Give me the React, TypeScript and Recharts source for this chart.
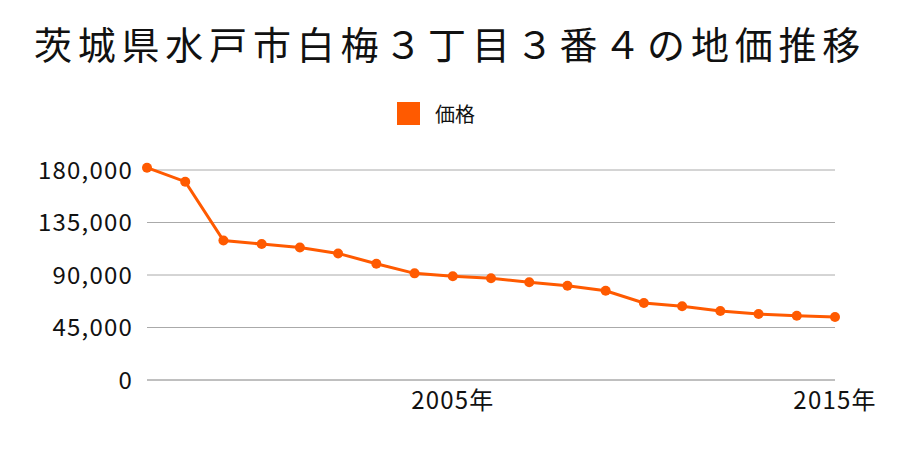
import { LineChart, Line, XAxis, YAxis, CartesianGrid } from 'recharts'

const years = [
  '1997', '1998', '1999', '2000', '2001', '2002', '2003', '2004', '2005', '2006',
  '2007', '2008', '2009', '2010', '2011', '2012', '2013', '2014', '2015',
]
const prices = [
  182000, 170000, 119500, 116500, 113500, 108500, 99700, 91400, 89000, 87200,
  83800, 80800, 76500, 66000, 63200, 59200, 56600, 55000, 54000,
]
const yTicks = [0, 45000, 90000, 135000, 180000]
const xTicks = ['2005', '2015']

const data = years.map((y, i) => ({ year: y, price: prices[i] }))

const font = '"Noto Sans CJK JP", "Noto Sans", sans-serif'
const orange = '#ff5a00'
const tickStyle = { fontSize: 24, fill: '#111', fontFamily: font, letterSpacing: 1.2 }

// 180,000 sits at y=170 and 0 at y=380; headroom up to 183,000 keeps the first dot inside
export default function App() {
  return (
    <div style={{ position: 'absolute', left: 0, top: 0, width: 900, height: 450, background: '#fff', fontFamily: font }}>
      <div
        style={{
          position: 'absolute', top: 16, left: 0, width: 900, textAlign: 'center',
          fontSize: 38, letterSpacing: 5.8, color: '#111', lineHeight: '54px',
        }}
      >
        茨城県水戸市白梅３丁目３番４の地価推移
      </div>
      <div style={{ position: 'absolute', top: 99, left: 397, display: 'flex', alignItems: 'center' }}>
        <div style={{ width: 23, height: 23, background: orange }} />
        <span style={{ marginLeft: 15, fontSize: 20, color: '#111' }}>価格</span>
      </div>
      <LineChart
        width={900}
        height={450}
        data={data}
        margin={{ top: 166.5, right: 65, bottom: 40, left: 0 }}
      >
        <CartesianGrid vertical={false} stroke="#aaa" strokeWidth={1} horizontalValues={yTicks} />
        <XAxis
          dataKey="year"
          ticks={xTicks}
          tickFormatter={v => `${v}年`}
          tickLine={false}
          axisLine={{ stroke: '#aaa', strokeWidth: 1 }}
          tick={tickStyle}
          tickMargin={6}
          interval={0}
        />
        <YAxis
          width={147}
          domain={[0, 183000]}
          ticks={yTicks}
          tickFormatter={v => v.toLocaleString('en-US')}
          tickLine={false}
          axisLine={false}
          tick={tickStyle}
          tickMargin={8}
        />
        <Line
          dataKey="price"
          stroke={orange}
          strokeWidth={3}
          dot={{ r: 5, fill: orange, stroke: orange, strokeWidth: 0 }}
          isAnimationActive={false}
        />
      </LineChart>
    </div>
  )
}
